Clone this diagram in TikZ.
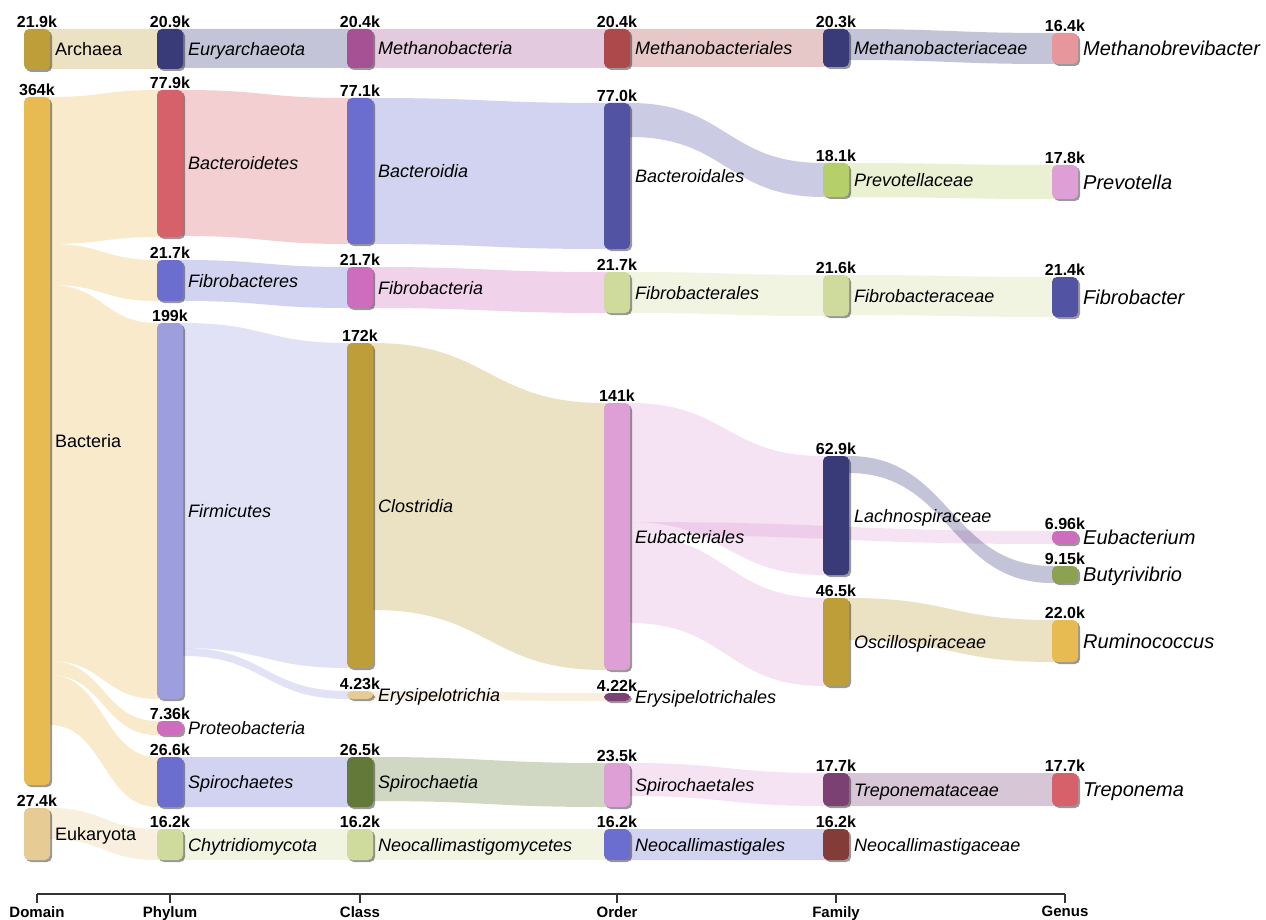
\documentclass[tikz,border=0pt]{standalone}
\usepackage{fontspec}
\setmainfont{Liberation Sans}
\usepackage{tikz}
\usetikzlibrary{positioning, calc, shadows, backgrounds}

\definecolor{colorNavy}{HTML}{393B79}
\definecolor{colorIndigo}{HTML}{5254A3}
\definecolor{colorPeriwinkle}{HTML}{6B6ECF}
\definecolor{colorLavender}{HTML}{9C9EDE}
\definecolor{colorOlive}{HTML}{637939}
\definecolor{colorMoss}{HTML}{8CA252}
\definecolor{colorLime}{HTML}{B5CF6B}
\definecolor{colorSage}{HTML}{CEDB9C}
\definecolor{colorOchre}{HTML}{BD9E39}
\definecolor{colorGold}{HTML}{E7BA52}
\definecolor{colorSand}{HTML}{E7CB94}
\definecolor{colorMaroon}{HTML}{843C39}
\definecolor{colorBrick}{HTML}{AD494A}
\definecolor{colorRose}{HTML}{D6616B}
\definecolor{colorBlush}{HTML}{E7969C}
\definecolor{colorPlum}{HTML}{7B4173}
\definecolor{colorMauve}{HTML}{A55194}
\definecolor{colorOrchid}{HTML}{CE6DBD}
\definecolor{colorPink}{HTML}{DE9ED6}
\definecolor{colorAxis}{HTML}{333333}

\tikzstyle{taxonbar} = [rectangle, rounded corners=5pt, minimum width=26pt, inner sep=0pt, outer sep=0pt, anchor=north, drop shadow={shadow xshift=2pt, shadow yshift=-2pt, opacity=0.4, fill=black}]
\tikzstyle{valtext} = [font=\fontsize{16}{18}\selectfont\bfseries, inner sep=1pt]
\tikzstyle{nametext} = [font=\fontsize{18}{20}\selectfont\itshape, inner sep=2pt, text height=13pt, text depth=0pt]
\tikzstyle{domaintext} = [font=\fontsize{18}{20}\selectfont, inner sep=2pt, text height=13pt, text depth=0pt]
\tikzstyle{genustext} = [font=\fontsize{20}{22}\selectfont\itshape, inner sep=2pt, text height=14.3pt, text depth=0pt]
\tikzstyle{axisline} = [colorAxis, line width=1.5pt]
\tikzstyle{axistext} = [font=\fontsize{15}{17}\selectfont\bfseries, inner sep=1pt]

% one bar of the sankey with its count and its name
\newcommand{\taxon}[8][nametext]{%
	\node[taxonbar, fill=#6, minimum height=#5pt] (#2) at (#3,#4) {};
	\node[valtext, above=0.5pt of #2] (#2Val) {#7};
	\node[#1, right=3pt of #2] (#2Name) {#8};
}

% band from source to target: src, tgt, src offset, tgt offset, width, colour
\newcommand{\flow}[6]{%
	\fill[#6, opacity=0.3] let \p1=(#1.north east), \p2=(#2.north west) in
		(\x1-13pt,\y1-#3pt) -- (\x1,\y1-#3pt)
		.. controls ({(\x1+\x2)/2},\y1-#3pt) and ({(\x1+\x2)/2},\y2-#4pt) .. (\x2,\y2-#4pt)
		-- (\x2+13pt,\y2-#4pt) -- (\x2+13pt,\y2-#4pt-#5pt) -- (\x2,\y2-#4pt-#5pt)
		.. controls ({(\x1+\x2)/2},\y2-#4pt-#5pt) and ({(\x1+\x2)/2},\y1-#3pt-#5pt) .. (\x1,\y1-#3pt-#5pt)
		-- (\x1-13pt,\y1-#3pt-#5pt) -- cycle;
}

\begin{document}
\begin{tikzpicture}[x=1pt, y=-1pt]

	\useasboundingbox (0,0) rectangle (1266,920);

	% domain
	\taxon[domaintext]{dArchaea}{37}{29}{41}{colorOchre}{21.9k}{Archaea}
	\taxon[domaintext]{dBacteria}{37}{97}{688}{colorGold}{364k}{Bacteria}
	\taxon[domaintext]{dEukaryota}{37}{808}{52}{colorSand}{27.4k}{Eukaryota}

	% phylum
	\taxon{pEuryarchaeota}{170}{29}{40}{colorNavy}{20.9k}{Euryarchaeota}
	\taxon{pBacteroidetes}{170}{90}{147}{colorRose}{77.9k}{Bacteroidetes}
	\taxon{pFibrobacteres}{170}{260}{41}{colorPeriwinkle}{21.7k}{Fibrobacteres}
	\taxon{pFirmicutes}{170}{323}{376}{colorLavender}{199k}{Firmicutes}
	\taxon{pProteobacteria}{170}{721}{14}{colorOrchid}{7.36k}{Proteobacteria}
	\taxon{pSpirochaetes}{170}{757}{50}{colorPeriwinkle}{26.6k}{Spirochaetes}
	\taxon{pChytridiomycota}{170}{829}{31}{colorSage}{16.2k}{Chytridiomycota}

	% class
	\taxon{cMethanobacteria}{360}{29}{39}{colorMauve}{20.4k}{Methanobacteria}
	\taxon{cBacteroidia}{360}{98}{146}{colorPeriwinkle}{77.1k}{Bacteroidia}
	\taxon{cFibrobacteria}{360}{267}{41}{colorOrchid}{21.7k}{Fibrobacteria}
	\taxon{cClostridia}{360}{343}{325}{colorOchre}{172k}{Clostridia}
	\taxon{cErysipelotrichia}{360}{691}{8}{colorSand}{4.23k}{Erysipelotrichia}
	\taxon{cSpirochaetia}{360}{757}{50}{colorOlive}{26.5k}{Spirochaetia}
	\taxon{cNeocallimastigomycetes}{360}{829}{31}{colorSage}{16.2k}{Neocallimastigomycetes}

	% order
	\taxon{oMethanobacteriales}{617}{29}{39}{colorBrick}{20.4k}{Methanobacteriales}
	\taxon{oBacteroidales}{617}{103}{146}{colorIndigo}{77.0k}{Bacteroidales}
	\taxon{oFibrobacterales}{617}{272}{41}{colorSage}{21.7k}{Fibrobacterales}
	\taxon{oEubacteriales}{617}{403}{267}{colorPink}{141k}{Eubacteriales}
	\taxon{oErysipelotrichales}{617}{693}{8}{colorPlum}{4.22k}{Erysipelotrichales}
	\taxon{oSpirochaetales}{617}{763}{44}{colorPink}{23.5k}{Spirochaetales}
	\taxon{oNeocallimastigales}{617}{829}{31}{colorPeriwinkle}{16.2k}{Neocallimastigales}

	% family
	\taxon{fMethanobacteriaceae}{836}{29}{38}{colorNavy}{20.3k}{Methanobacteriaceae}
	\taxon{fPrevotellaceae}{836}{163}{34}{colorLime}{18.1k}{Prevotellaceae}
	\taxon{fFibrobacteraceae}{836}{275}{41}{colorSage}{21.6k}{Fibrobacteraceae}
	\taxon{fLachnospiraceae}{836}{456}{119}{colorNavy}{62.9k}{Lachnospiraceae}
	\taxon{fOscillospiraceae}{836}{598}{88}{colorOchre}{46.5k}{Oscillospiraceae}
	\taxon{fTreponemataceae}{836}{773}{33}{colorPlum}{17.7k}{Treponemataceae}
	\taxon{fNeocallimastigaceae}{836}{829}{31}{colorMaroon}{16.2k}{Neocallimastigaceae}

	% genus
	\taxon[genustext]{gMethanobrevibacter}{1065}{33}{31}{colorBlush}{16.4k}{Methanobrevibacter}
	\taxon[genustext]{gPrevotella}{1065}{165}{34}{colorPink}{17.8k}{Prevotella}
	\taxon[genustext]{gFibrobacter}{1065}{277}{40}{colorIndigo}{21.4k}{Fibrobacter}
	\taxon[genustext]{gEubacterium}{1065}{531}{13}{colorOrchid}{6.96k}{Eubacterium}
	\taxon[genustext]{gButyrivibrio}{1065}{566}{17}{colorMoss}{9.15k}{Butyrivibrio}
	\taxon[genustext]{gRuminococcus}{1065}{620}{42}{colorGold}{22.0k}{Ruminococcus}
	\taxon[genustext]{gTreponema}{1065}{773}{33}{colorRose}{17.7k}{Treponema}

	% bands
	\begin{pgfonlayer}{background}
		\flow{dArchaea}{pEuryarchaeota}{0}{0}{40}{colorOchre}
		\flow{dBacteria}{pBacteroidetes}{0}{0}{147}{colorGold}
		\flow{dBacteria}{pFibrobacteres}{147}{0}{41}{colorGold}
		\flow{dBacteria}{pFirmicutes}{188}{0}{376}{colorGold}
		\flow{dBacteria}{pProteobacteria}{564}{0}{14}{colorGold}
		\flow{dBacteria}{pSpirochaetes}{578}{0}{50}{colorGold}
		\flow{dEukaryota}{pChytridiomycota}{0}{0}{31}{colorSand}

		\flow{pEuryarchaeota}{cMethanobacteria}{0}{0}{39}{colorNavy}
		\flow{pBacteroidetes}{cBacteroidia}{0}{0}{146}{colorRose}
		\flow{pFibrobacteres}{cFibrobacteria}{0}{0}{41}{colorPeriwinkle}
		\flow{pFirmicutes}{cClostridia}{0}{0}{325}{colorLavender}
		\flow{pFirmicutes}{cErysipelotrichia}{325}{0}{8}{colorLavender}
		\flow{pSpirochaetes}{cSpirochaetia}{0}{0}{50}{colorPeriwinkle}
		\flow{pChytridiomycota}{cNeocallimastigomycetes}{0}{0}{31}{colorSage}

		\flow{cMethanobacteria}{oMethanobacteriales}{0}{0}{39}{colorMauve}
		\flow{cBacteroidia}{oBacteroidales}{0}{0}{146}{colorPeriwinkle}
		\flow{cFibrobacteria}{oFibrobacterales}{0}{0}{41}{colorOrchid}
		\flow{cClostridia}{oEubacteriales}{0}{0}{267}{colorOchre}
		\flow{cErysipelotrichia}{oErysipelotrichales}{0}{0}{8}{colorSand}
		\flow{cSpirochaetia}{oSpirochaetales}{0}{0}{44}{colorOlive}
		\flow{cNeocallimastigomycetes}{oNeocallimastigales}{0}{0}{31}{colorSage}

		\flow{oMethanobacteriales}{fMethanobacteriaceae}{0}{0}{38}{colorBrick}
		\flow{oBacteroidales}{fPrevotellaceae}{0}{0}{34}{colorIndigo}
		\flow{oFibrobacterales}{fFibrobacteraceae}{0}{0}{41}{colorSage}
		\flow{oEubacteriales}{fLachnospiraceae}{0}{0}{119}{colorPink}
		\flow{oEubacteriales}{gEubacterium}{119}{0}{13}{colorPink}
		\flow{oEubacteriales}{fOscillospiraceae}{132}{0}{88}{colorPink}
		\flow{oSpirochaetales}{fTreponemataceae}{0}{0}{33}{colorPink}
		\flow{oNeocallimastigales}{fNeocallimastigaceae}{0}{0}{31}{colorPeriwinkle}

		\flow{fMethanobacteriaceae}{gMethanobrevibacter}{0}{0}{31}{colorNavy}
		\flow{fPrevotellaceae}{gPrevotella}{0}{0}{34}{colorLime}
		\flow{fFibrobacteraceae}{gFibrobacter}{0}{0}{40}{colorSage}
		\flow{fLachnospiraceae}{gButyrivibrio}{0}{0}{17}{colorNavy}
		\flow{fOscillospiraceae}{gRuminococcus}{0}{0}{42}{colorOchre}
		\flow{fTreponemataceae}{gTreponema}{0}{0}{33}{colorPlum}
	\end{pgfonlayer}

	% axis
	\draw[axisline] (37,894) -- (1065,894);
	\foreach \px/\rank in {37/Domain, 170/Phylum, 360/Class, 617/Order, 836/Family, 1065/Genus}{
		\draw[axisline] (\px,894) -- (\px,903);
		\node[axistext, anchor=north] (axis\rank) at (\px,905) {\rank};
	}

\end{tikzpicture}
\end{document}
